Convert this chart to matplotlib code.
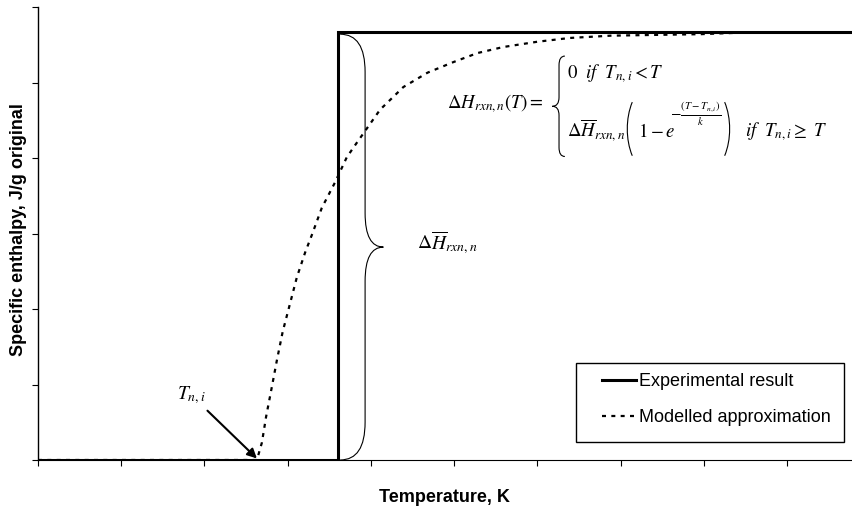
import matplotlib.pyplot as plt
from matplotlib.path import Path
from matplotlib.patches import PathPatch, Rectangle

plt.rcParams['font.family'] = ['Liberation Sans', 'DejaVu Sans']
plt.rcParams['mathtext.fontset'] = 'stix'

# Experimental result (step) and modelled curve
exp_x = [0, 3.61, 3.61, 9.78]
exp_y = [0, 0, 5.67, 5.67]

model_x = [0, 2.63, 2.69, 2.74, 2.81, 2.87, 2.94, 3.03, 3.11, 3.21, 3.29, 3.41,
           3.57, 3.71, 3.81, 4.11, 4.39, 4.68, 4.99, 5.28, 5.59, 6.00, 6.39,
           6.88, 7.39, 7.96, 8.44, 9.78]
model_y = [0, 0, 0.23, 0.57, 0.97, 1.32, 1.70, 2.08, 2.42, 2.75, 2.98, 3.34,
           3.68, 4.01, 4.17, 4.64, 4.94, 5.13, 5.27, 5.39, 5.47, 5.54, 5.59,
           5.62, 5.63, 5.64, 5.66, 5.66]

t_onset = 2.63
plateau = 5.67

W, H = 852, 512
fig = plt.figure(figsize=(W / 100, H / 100), dpi=100)
ax = fig.add_axes([38 / W, 52 / H, 814 / W, 453 / H])

ax.plot(exp_x, exp_y, color='black', lw=2.2, label='Experimental result',
        solid_joinstyle='miter', zorder=3)
ax.plot(model_x, model_y, color='black', lw=1.6, linestyle=(0, (1.8, 2.4)),
        label='Modelled approximation', zorder=3)

ax.set_xlim(0, 9.78)
ax.set_ylim(0, 6)
ax.set_xticks(range(0, 10))
ax.set_yticks(range(0, 7))
ax.set_xticklabels([])
ax.set_yticklabels([])
ax.tick_params(direction='out', length=4, width=0.8, color='black')
ax.spines['top'].set_visible(False)
ax.spines['right'].set_visible(False)
ax.spines['left'].set_linewidth(1.0)
ax.spines['bottom'].set_linewidth(0.8)

fig.text(444 / W, 1 - 497 / H, 'Temperature, K', fontsize=13,
         fontweight='bold', ha='center', va='center')
fig.text(19 / W, 1 - 230 / H, 'Specific enthalpy, J/g original', fontsize=13,
         fontweight='bold', ha='center', va='center', rotation=90)


def brace(ax, x_end, x_mid, x_tip, y_bot, y_top, h_end, h_mid):
    # curly brace drawn with quadratic curves
    y_m = (y_bot + y_top) / 2
    verts = [(x_end, y_top), (x_mid, y_top), (x_mid, y_top - h_end),
             (x_mid, y_m + h_mid),
             (x_mid, y_m), (x_tip, y_m),
             (x_mid, y_m), (x_mid, y_m - h_mid),
             (x_mid, y_bot + h_end),
             (x_mid, y_bot), (x_end, y_bot)]
    codes = [Path.MOVETO, Path.CURVE3, Path.CURVE3, Path.LINETO,
             Path.CURVE3, Path.CURVE3, Path.CURVE3, Path.CURVE3,
             Path.LINETO, Path.CURVE3, Path.CURVE3]
    ax.add_patch(PathPatch(Path(verts, codes), fill=False, lw=0.8,
                           edgecolor='black', zorder=2))


def paren(ax, x_out, x_in, y_bot, y_top):
    # tall round bracket
    h = y_top - y_bot
    verts = [(x_in, y_top), (x_out, y_top - 0.3 * h),
             (x_out, y_bot + 0.3 * h), (x_in, y_bot)]
    codes = [Path.MOVETO, Path.CURVE4, Path.CURVE4, Path.CURVE4]
    ax.add_patch(PathPatch(Path(verts, codes), fill=False, lw=0.8,
                           edgecolor='black'))


# brace spanning the enthalpy jump
brace(ax, 3.63, 3.93, 4.15, 0, plateau - 0.03, 0.5, 0.45)
ax.text(4.55, 2.88, r'$\Delta\overline{H}_{rxn,n}$', fontsize=14,
        ha='left', va='center')

# piecewise model equation
fs = 13.5
ax.text(4.92, 4.66, r'$\Delta H_{rxn,n}(T) =$', fontsize=fs,
        ha='left', va='baseline')
brace(ax, 6.33, 6.26, 6.18, 4.02, 5.35, 0.12, 0.12)
ax.text(6.36, 5.05, r'$0\ \ if\ \ T_{n,i} < T$', fontsize=fs,
        ha='left', va='baseline')
ax.text(6.36, 4.28, r'$\Delta\overline{H}_{rxn,n}$', fontsize=fs,
        ha='left', va='baseline')
paren(ax, 7.06, 7.14, 4.03, 4.74)
ax.text(7.21, 4.28, r'$1-e$', fontsize=fs, ha='left', va='baseline')
ax.text(7.59, 4.58, r'$-\frac{(T-T_{n,i})}{k}$', fontsize=11,
        ha='left', va='center')
paren(ax, 8.33, 8.25, 4.03, 4.74)
ax.text(8.50, 4.28, r'$if\ \ T_{n,i}\geq\ T$', fontsize=fs,
        ha='left', va='baseline')

# onset temperature marker
ax.annotate(r'$T_{n,i}$', xy=(t_onset, 0.02), xytext=(1.67, 0.86),
            fontsize=14, ha='left', va='center',
            arrowprops=dict(arrowstyle='-|>', color='black', lw=1.5,
                            mutation_scale=14, shrinkA=2, shrinkB=0))

# legend with its own frame
fig.patches.append(Rectangle((576 / W, 1 - 442 / H), 268 / W, 79 / H,
                             transform=fig.transFigure, fill=False,
                             edgecolor='black', lw=1.0))
ax.legend(loc='upper left', bbox_to_anchor=(602 / W, 1 - 373 / H),
          bbox_transform=fig.transFigure, fontsize=13, frameon=False,
          handlelength=1.9, labelspacing=1.08, borderpad=0,
          handletextpad=0.17, borderaxespad=0)

fig.savefig('out.png', dpi=100)
